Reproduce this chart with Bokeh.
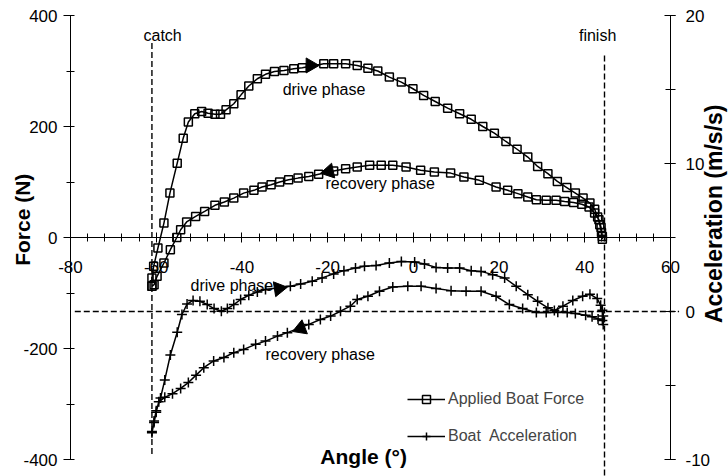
import math
from bokeh.plotting import figure
from bokeh.models import (Range1d, LinearAxis, SingleIntervalTicker, Label,
                          Legend, LegendItem, PrintfTickFormatter)
from bokeh.embed import file_html
from bokeh.resources import INLINE

FONT = "Liberation Sans"

# ---------------- data ----------------
# Applied boat force loop: drive phase (catch -> finish) then recovery (finish -> catch)
force_angle = [-61.0, -61.0, -60.6, -59.6, -58.2, -56.8, -55.1, -53.7, -52.5, -51.0,
               -49.4, -47.9, -46.3, -45.0, -43.7, -41.9, -40.2, -38.4, -36.4, -34.5,
               -32.4, -30.2, -27.9, -25.9, -20.9, -18.6, -15.8, -13.1, -10.6, -8.3,
               -5.6, -2.8, -0.1, 2.4, 5.1, 8.0, 10.8, 13.5, 16.2, 18.9,
               21.6, 24.2, 26.7, 29.0, 31.4, 33.6, 35.8, 37.8, 39.6, 41.2,
               42.3, 43.0, 43.5, 43.9, 44.1,
               44.1, 43.8, 43.3, 42.3, 41.0, 39.3, 37.4, 35.3, 33.3, 31.0,
               28.7, 26.7, 24.4, 22.0, 19.3, 15.4, 11.8, 8.7, 4.9, 1.7,
               -1.7, -4.8, -7.5, -10.2, -13.1, -15.8, -18.6, -22.1, -24.4, -26.9,
               -29.1, -31.2, -33.2, -35.3, -37.2, -39.6, -41.9, -44.1, -46.3, -48.7,
               -50.8, -52.9, -54.3, -55.2, -56.7, -58.2, -59.8, -60.5, -61.0]
force_value = [-88, -73, -52, -19, 26, 80, 134, 179, 208, 223,
               227, 224, 222, 222, 230, 241, 257, 273, 286, 294,
               299, 301, 304, 306, 313, 313, 313, 310, 305, 300,
               289, 280, 268, 256, 245, 233, 223, 213, 200, 188,
               173, 159, 145, 128, 115, 101, 90, 80, 71, 62,
               51, 37, 23, 9, -3,
               2, 18, 32, 44, 55, 60, 63, 65, 67, 67,
               68, 73, 79, 85, 91, 103, 109, 116, 118, 121,
               127, 130, 130, 130, 127, 124, 120, 114, 110, 107,
               104, 100, 95, 91, 85, 80, 71, 64, 58, 47,
               38, 28, 14, 0, -22, -46, -70, -85, -88]

# Boat acceleration loop (m/s/s): drive phase then recovery
acc_angle = [-61.0, -60.5, -60.0, -59.0, -58.0, -56.7, -55.1, -54.0, -52.8, -51.4,
             -49.8, -48.1, -46.5, -44.8, -43.4, -41.9, -40.3, -38.4, -36.4, -34.5,
             -28.7, -26.3, -23.6, -21.3, -18.6, -16.2, -13.5, -11.4, -8.7, -5.6,
             -2.8, 0.3, 2.6, 5.3, 8.0, 10.8, 13.5, 15.8, 18.5, 21.3,
             24.0, 26.7, 29.0, 31.4, 32.9, 34.9, 37.2, 39.5, 41.2, 42.9,
             43.7, 44.1, 44.3, 44.3,
             44.1, 43.1, 41.7, 40.2, 37.8, 35.9, 33.7, 31.0, 28.7, 25.5,
             22.4, 19.3, 15.8, 12.3, 8.8, 5.3, 1.8, -1.3, -4.8, -7.9,
             -10.6, -13.1, -14.7, -17.0, -19.3, -21.7, -24.4, -29.4, -31.7, -34.5,
             -36.8, -39.6, -41.9, -44.2, -46.6, -48.9, -50.7, -52.5, -54.3, -56.2,
             -58.0, -59.4, -60.0, -60.5, -61.0]
acc_value = [-8.1, -7.4, -6.7, -5.85, -4.62, -2.94, -1.4, -0.2, 0.5, 0.75,
             0.69, 0.47, 0.2, 0.02, 0.2, 0.47, 0.81, 1.1, 1.32, 1.48,
             1.7, 1.86, 2.04, 2.27, 2.54, 2.76, 2.94, 3.05, 3.11, 3.27,
             3.38, 3.34, 3.21, 2.98, 2.94, 2.94, 2.76, 2.71, 2.49, 2.27,
             1.7, 1.14, 0.69, 0.25, 0.07, 0.36, 0.74, 1.03, 1.17, 0.87,
             0.42, 0.09, -0.3, -0.87,
             -0.6, -0.5, -0.36, -0.25, -0.13, -0.07, -0.05, -0.07, -0.07, 0.2,
             0.47, 1.03, 1.37, 1.37, 1.41, 1.55, 1.7, 1.7, 1.66, 1.37,
             1.03, 0.81, 0.36, 0.02, -0.31, -0.54, -0.87, -1.43, -1.66, -2.0,
             -2.22, -2.56, -2.78, -3.11, -3.34, -3.8, -4.3, -4.8, -5.2, -5.55,
             -5.8, -6.1, -6.8, -7.5, -8.2]

# direction arrows (angle, value, pointing direction in degrees ccw from "up")
force_arrow_angle = [-24.0, -19.7]
force_arrow_value = [310, 119]
force_arrow_dir = [-90, 102]
acc_arrow_angle = [-31.4, -26.3]
acc_arrow_value = [1.55, -1.14]
acc_arrow_dir = [-81, 111]

# catch / finish markers (angle, top force, bottom force)
event_names = ["catch", "finish"]
event_angle = [-61.0, 44.6]
event_top = [351, 330]
event_bottom = [-390, -445]
event_label_x = [-58.5, 43.0]
event_label_y = [364, 364]

# phase annotations (text, angle, force-scale y)
phase_text = ["drive phase", "recovery  phase", "drive phase", "recovery  phase"]
phase_x = [-30.5, -20.5, -52.0, -34.5]
phase_y = [267, 97, -86, -211]

# axis limits and tick spacing
angle_limits = (-80, 60)
force_limits = (-400, 400)
acc_limits = (-10, 20)
x_ticks_interval = 20
force_ticks_interval = 200
acc_ticks_interval = 10

# ---------------- layout (pixels) ----------------
W, H = 728, 476
PAD_L, PAD_R, PAD_T, PAD_B = 70, 58, 15, 17
inner_w = W - PAD_L - PAD_R
inner_h = H - PAD_T - PAD_B


def padded(lo, hi, pad_lo, pad_hi, inner):
    per_px = (hi - lo) / inner
    return Range1d(lo - pad_lo * per_px, hi + pad_hi * per_px)


p = figure(width=W, height=H,
           x_range=padded(*angle_limits, PAD_L, PAD_R, inner_w),
           y_range=padded(*force_limits, PAD_B, PAD_T, inner_h),
           output_backend="svg", toolbar_location=None,
           min_border=0, min_border_left=0, min_border_right=0,
           min_border_top=0, min_border_bottom=0)
p.extra_y_ranges = {"acc": padded(*acc_limits, PAD_B, PAD_T, inner_h)}
p.outline_line_color = None
p.xgrid.visible = False
p.ygrid.visible = False
p.background_fill_color = "white"
p.border_fill_color = "white"

fmt = PrintfTickFormatter(format="%d")


def style_axis(ax, size="17px"):
    ax.formatter = fmt
    ax.major_label_text_font = FONT
    ax.major_label_text_font_size = size
    ax.major_label_text_color = "black"
    ax.axis_line_color = "black"
    ax.major_tick_line_color = "black"
    ax.minor_tick_line_color = "black"


# x axis crossing at force = 0
xa = p.xaxis[0]
xa.fixed_location = 0
xa.bounds = angle_limits
xa.ticker = SingleIntervalTicker(interval=x_ticks_interval, num_minor_ticks=5)
xa.major_tick_in = 5
xa.major_tick_out = 5
xa.minor_tick_in = 4
xa.minor_tick_out = 4
xa.major_label_standoff = 18
style_axis(xa)

ya = p.yaxis[0]
ya.fixed_location = angle_limits[0]
ya.bounds = force_limits
ya.ticker = SingleIntervalTicker(interval=force_ticks_interval, num_minor_ticks=2)
ya.major_tick_in = 0
ya.major_tick_out = 7
ya.minor_tick_in = 4
ya.minor_tick_out = 4
ya.major_label_standoff = 6
style_axis(ya)

ra = LinearAxis(y_range_name="acc",
                ticker=SingleIntervalTicker(interval=acc_ticks_interval, num_minor_ticks=2))
ra.fixed_location = angle_limits[1]
ra.bounds = acc_limits
ra.major_tick_in = 6
ra.major_tick_out = 5
ra.minor_tick_in = 5
ra.minor_tick_out = 5
ra.major_label_standoff = 10
style_axis(ra)
p.add_layout(ra, "right")

# reference lines
p.segment(x0=[angle_limits[0] + 1], y0=[0], x1=[angle_limits[1] + 2], y1=[0], y_range_name="acc",
          line_color="black", line_width=1.4, line_dash="6 3")
p.segment(x0=event_angle, y0=event_bottom, x1=event_angle, y1=event_top,
          line_color="black", line_width=1.4, line_dash="6 3")

# force curve
fl = p.line(force_angle, force_value, line_color="black", line_width=1.5)
fs = p.scatter(force_angle, force_value, marker="square", size=8,
               fill_color=None, line_color="black", line_width=1.5)

# acceleration curve
al = p.line(acc_angle, acc_value, y_range_name="acc", line_color="black", line_width=1.5)
ac = p.scatter(acc_angle, acc_value, y_range_name="acc", marker="cross", size=10,
               line_color="black", line_width=1.5)

# direction arrows
p.scatter(force_arrow_angle, force_arrow_value, marker="triangle", size=15,
          angle=[math.radians(a) for a in force_arrow_dir],
          fill_color="black", line_color="black")
p.scatter(acc_arrow_angle, acc_arrow_value, y_range_name="acc", marker="triangle", size=15,
          angle=[math.radians(a) for a in acc_arrow_dir],
          fill_color="black", line_color="black")

# texts
for name, lx, ly in zip(event_names, event_label_x, event_label_y):
    p.add_layout(Label(x=lx, y=ly, text=name, text_font=FONT, text_font_size="16px",
                       text_align="center", text_baseline="middle", text_color="black"))
for t, x, y in zip(phase_text, phase_x, phase_y):
    p.add_layout(Label(x=x, y=y, text=t, text_font=FONT, text_font_size="16px",
                       text_align="left", text_baseline="middle", text_color="black"))

p.add_layout(Label(x=-91.2, y=32, text="Force (N)", angle=math.pi / 2,
                   text_font=FONT, text_font_size="21px", text_font_style="bold",
                   text_align="center", text_baseline="middle", text_color="black"))
p.add_layout(Label(x=70.2, y=6.6, y_range_name="acc", text="Acceleration (m/s/s)",
                   angle=math.pi / 2, text_font=FONT, text_font_size="23px",
                   text_font_style="bold", text_align="center", text_baseline="middle",
                   text_color="black"))
p.add_layout(Label(x=-11.6, y=-394, text="Angle (°)", text_font=FONT,
                   text_font_size="21px", text_font_style="bold",
                   text_align="center", text_baseline="middle", text_color="black"))

legend = Legend(items=[LegendItem(label="Applied Boat Force", renderers=[fl, fs]),
                       LegendItem(label="Boat  Acceleration", renderers=[al, ac])],
                location=(407, 30), padding=0, spacing=17, glyph_width=38, glyph_height=20,
                label_standoff=3, border_line_color=None, background_fill_alpha=0,
                label_text_font=FONT, label_text_font_size="16px", label_height=20)
p.add_layout(legend)

open("out.html", "w").write(file_html(p, INLINE))
